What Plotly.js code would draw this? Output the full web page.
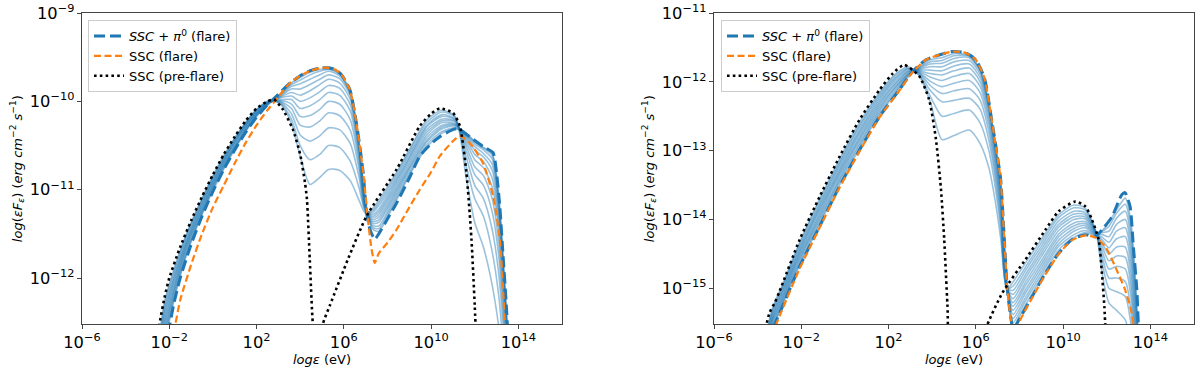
<!DOCTYPE html>
<html><head><meta charset="utf-8">
<script src="https://cdn.plot.ly/plotly-3.0.1.min.js"></script>
<style>html,body{margin:0;padding:0;background:#fff;} #chart{width:1200px;height:370px;}</style>
</head><body><div id="chart"></div>
<script>
// ---------- LEFT PANEL (log10 values) ----------
const preL_x = [-2.7,-2.45,-2.2,-2.0,-1.5,-1.0,-0.5,0,0.5,1.0,1.5,2.0,2.5,2.8,3.2,3.67,4.0,4.22,4.31,4.44,4.58,4.8,5.04,5.36,6.2,7.04,8.42,9.48,10.0,10.4,11.0,11.32,11.62,11.85,12.0,12.1];
const preL_y = [-13.0,-12.52,-12.2,-12.0,-11.65,-11.35,-11.08,-10.83,-10.6,-10.4,-10.22,-10.08,-10.0,-9.98,-10.09,-10.32,-10.6,-10.92,-11.11,-11.79,-12.52,-13.0,-12.52,-12.31,-11.78,-11.30,-10.77,-10.28,-10.14,-10.08,-10.13,-10.28,-10.81,-11.56,-12.31,-12.9];

const totL_x = [-2.2,-1.97,-1.8,-1.5,-1.0,-0.5,0,0.5,1.0,1.5,2.0,2.5,3.0,3.5,4.0,4.5,5.0,5.3,5.6,5.9,6.28,6.58,6.89,7.04,7.2,7.42,7.6,8.0,8.42,9.0,9.48,10.0,10.4,11.0,11.25,11.77,12.38,12.84,13.0,13.15,13.3,13.45,13.55];
const totL_y = [-12.8,-12.52,-12.3,-12.0,-11.62,-11.3,-11.02,-10.77,-10.55,-10.35,-10.18,-10.04,-9.92,-9.8,-9.71,-9.65,-9.62,-9.62,-9.64,-9.7,-9.87,-10.25,-10.81,-11.26,-11.45,-11.56,-11.5,-11.33,-11.15,-10.87,-10.62,-10.48,-10.40,-10.32,-10.31,-10.40,-10.51,-10.58,-10.81,-11.19,-11.75,-12.31,-12.8];

const sscL_x = [-2.0,-1.72,-1.5,-1.0,-0.5,0,0.5,1.0,1.5,2.0,2.5,3.0,3.5,4.0,4.5,5.0,5.3,5.6,5.9,6.28,6.58,6.89,7.12,7.27,7.42,7.6,8.0,8.42,9.0,9.48,10.0,10.4,11.0,11.32,11.77,12.38,12.84,13.15,13.3,13.38,13.45];
const sscL_y = [-12.85,-12.52,-12.25,-11.85,-11.5,-11.2,-10.95,-10.7,-10.47,-10.27,-10.1,-9.95,-9.8,-9.71,-9.65,-9.62,-9.62,-9.64,-9.7,-9.87,-10.25,-10.81,-11.37,-11.67,-11.83,-11.72,-11.6,-11.45,-11.2,-11.0,-10.8,-10.62,-10.45,-10.39,-10.47,-10.70,-11.07,-11.56,-12.13,-12.52,-12.9];

// intermediate time steps: one row per energy, 12 steps from pre-flare to flare
const stepL_x = [-2.6,-2.2,-1.8,-1.2,-0.5,0.3,1.2,2.0,2.6,3.1,3.6,4.0,4.45,4.9,5.3,5.8,6.3,6.7,7.0,7.3,7.6,8.2,9.0,9.8,10.5,11.1,11.6,12.0,12.4,12.8,13.1,13.35,13.55];
const stepL_rows = [
[-12.91,-12.97,-13.02,-13.08,-13.14,-13.2,-13.25,-13.31,-13.37,-13.43,-13.48,-13.54],
[-12.25,-12.29,-12.34,-12.38,-12.43,-12.48,-12.52,-12.57,-12.62,-12.66,-12.71,-12.75],
[-11.91,-11.94,-11.98,-12.01,-12.04,-12.07,-12.11,-12.14,-12.17,-12.2,-12.24,-12.27],
[-11.49,-11.51,-11.53,-11.56,-11.58,-11.6,-11.62,-11.64,-11.66,-11.69,-11.71,-11.73],
[-11.1,-11.11,-11.13,-11.15,-11.16,-11.18,-11.2,-11.22,-11.23,-11.25,-11.27,-11.28],
[-10.7,-10.72,-10.73,-10.75,-10.76,-10.77,-10.79,-10.8,-10.81,-10.83,-10.84,-10.86],
[-10.34,-10.35,-10.36,-10.37,-10.38,-10.39,-10.4,-10.42,-10.43,-10.44,-10.45,-10.46],
[-10.09,-10.1,-10.1,-10.11,-10.12,-10.13,-10.13,-10.14,-10.15,-10.16,-10.16,-10.17],
[-9.99,-9.99,-10.0,-10.0,-10.0,-10.0,-10.01,-10.01,-10.01,-10.01,-10.02,-10.02],
[-10.03,-10.02,-10.01,-10.0,-9.99,-9.98,-9.96,-9.95,-9.94,-9.93,-9.92,-9.91],
[-10.25,-10.2,-10.14,-10.08,-10.03,-9.98,-9.94,-9.9,-9.86,-9.83,-9.81,-9.79],
[-10.62,-10.5,-10.38,-10.27,-10.17,-10.08,-10.0,-9.93,-9.86,-9.8,-9.76,-9.73],
[-10.94,-10.66,-10.45,-10.29,-10.16,-10.05,-9.96,-9.88,-9.81,-9.75,-9.7,-9.67],
[-10.86,-10.6,-10.39,-10.22,-10.09,-9.98,-9.89,-9.81,-9.75,-9.7,-9.66,-9.64],
[-10.77,-10.5,-10.3,-10.13,-10.0,-9.9,-9.82,-9.75,-9.7,-9.66,-9.64,-9.63],
[-10.78,-10.52,-10.32,-10.16,-10.03,-9.93,-9.85,-9.79,-9.74,-9.71,-9.69,-9.68],
[-10.9,-10.68,-10.48,-10.33,-10.21,-10.11,-10.04,-9.98,-9.94,-9.91,-9.9,-9.89],
[-11.12,-10.98,-10.86,-10.77,-10.7,-10.64,-10.59,-10.55,-10.52,-10.5,-10.48,-10.47],
[-11.27,-11.25,-11.24,-11.23,-11.22,-11.21,-11.2,-11.19,-11.18,-11.17,-11.16,-11.15],
[-11.22,-11.24,-11.26,-11.28,-11.3,-11.32,-11.34,-11.36,-11.38,-11.4,-11.42,-11.44],
[-11.12,-11.15,-11.18,-11.22,-11.25,-11.28,-11.31,-11.34,-11.37,-11.41,-11.44,-11.47],
[-10.89,-10.92,-10.95,-10.98,-11.01,-11.04,-11.07,-11.1,-11.13,-11.16,-11.19,-11.22],
[-10.55,-10.57,-10.6,-10.63,-10.65,-10.68,-10.71,-10.74,-10.76,-10.79,-10.82,-10.84],
[-10.21,-10.24,-10.27,-10.29,-10.32,-10.35,-10.38,-10.41,-10.44,-10.46,-10.49,-10.52],
[-10.1,-10.12,-10.15,-10.17,-10.2,-10.22,-10.24,-10.27,-10.29,-10.31,-10.34,-10.36],
[-10.17,-10.18,-10.2,-10.21,-10.22,-10.23,-10.25,-10.26,-10.27,-10.28,-10.3,-10.31],
[-10.85,-10.72,-10.62,-10.55,-10.5,-10.46,-10.43,-10.41,-10.39,-10.38,-10.37,-10.36],
[-11.37,-11.1,-10.95,-10.83,-10.74,-10.66,-10.6,-10.55,-10.51,-10.48,-10.46,-10.45],
[-11.65,-11.3,-11.1,-10.95,-10.84,-10.75,-10.68,-10.63,-10.59,-10.55,-10.53,-10.52],
[-12.08,-11.7,-11.45,-11.25,-11.1,-10.97,-10.87,-10.78,-10.71,-10.65,-10.61,-10.59],
[-12.55,-12.2,-11.95,-11.75,-11.6,-11.45,-11.35,-11.27,-11.2,-11.14,-11.1,-11.07],
[-13.1,-12.9,-12.7,-12.55,-12.4,-12.3,-12.2,-12.12,-12.06,-12.02,-12.0,-11.98],
[-13.6,-13.5,-13.4,-13.3,-13.2,-13.1,-13.0,-12.95,-12.9,-12.85,-12.8,-12.75]
];

// ---------- RIGHT PANEL ----------
const preR_x = [-3.8,-3.59,-3.45,-3.2,-2.99,-2.07,-1.16,-0.25,0.67,1.58,2.19,2.72,3.41,3.86,4.17,4.40,4.55,4.70,4.85,5.8,6.53,7.21,8.28,9.19,9.8,10.56,11.02,11.32,11.63,11.78,11.89,11.98];
const preR_y = [-16.0,-15.52,-15.35,-15.2,-15.04,-14.29,-13.67,-13.09,-12.55,-12.12,-11.88,-11.755,-11.92,-12.26,-12.83,-13.55,-14.28,-15.24,-16.0,-16.3,-15.53,-15.07,-14.58,-14.15,-13.88,-13.74,-13.81,-14.0,-14.29,-14.78,-15.26,-15.9];

const totR_x = [-3.4,-3.21,-2.99,-2.07,-1.16,-0.25,0.67,1.58,2.49,3.1,3.71,4.32,4.93,5.54,6.0,6.4,6.7,6.95,7.14,7.29,7.44,7.59,7.72,7.97,8.58,9.19,9.8,10.41,11.02,11.47,11.78,12.24,12.69,12.84,13.07,13.22,13.38,13.45,13.55];
const totR_y = [-15.8,-15.52,-15.36,-14.68,-14.1,-13.52,-12.99,-12.51,-12.12,-11.85,-11.68,-11.61,-11.56,-11.58,-11.68,-11.95,-12.5,-13.0,-13.42,-14.2,-15.0,-15.4,-15.6,-15.46,-15.12,-14.78,-14.49,-14.29,-14.22,-14.25,-14.15,-13.96,-13.64,-13.61,-13.81,-14.39,-15.02,-15.52,-16.0];

const sscR_x = [-3.35,-3.14,-2.99,-2.07,-1.16,-0.25,0.67,1.58,2.49,3.1,3.71,4.32,4.93,5.54,6.0,6.4,6.7,6.95,7.14,7.29,7.44,7.59,7.8,7.95,8.58,9.19,9.8,10.41,11.02,11.47,11.93,12.38,12.84,13.15,13.22,13.3];
const sscR_y = [-15.85,-15.52,-15.4,-14.71,-14.12,-13.54,-13.01,-12.52,-12.13,-11.86,-11.68,-11.61,-11.56,-11.58,-11.68,-11.95,-12.5,-13.0,-13.42,-14.2,-15.0,-15.42,-15.72,-15.52,-15.14,-14.8,-14.5,-14.3,-14.23,-14.26,-14.39,-14.68,-15.02,-15.36,-15.52,-15.8];

const stepR_x = [-3.7,-3.3,-2.9,-2.3,-1.5,-0.5,0.5,1.5,2.3,2.9,3.4,3.9,4.45,5.0,5.7,6.2,6.6,6.9,7.15,7.42,7.7,8.3,9.0,9.8,10.5,11.0,11.5,11.8,12.1,12.45,12.85,13.1,13.3,13.5];
const stepR_rows = [
[-15.78,-15.8,-15.83,-15.86,-15.88,-15.91,-15.94,-15.97,-15.99,-16.02,-16.05,-16.07],
[-15.27,-15.3,-15.33,-15.36,-15.39,-15.42,-15.44,-15.47,-15.5,-15.53,-15.56,-15.59],
[-14.98,-15.0,-15.03,-15.06,-15.08,-15.11,-15.14,-15.17,-15.19,-15.22,-15.25,-15.27],
[-14.5,-14.53,-14.56,-14.59,-14.62,-14.65,-14.67,-14.7,-14.73,-14.76,-14.79,-14.82],
[-13.93,-13.96,-14.0,-14.03,-14.06,-14.09,-14.13,-14.16,-14.19,-14.22,-14.26,-14.29],
[-13.28,-13.32,-13.35,-13.38,-13.42,-13.45,-13.48,-13.51,-13.55,-13.58,-13.61,-13.65],
[-12.68,-12.72,-12.75,-12.79,-12.82,-12.85,-12.89,-12.92,-12.95,-12.99,-13.02,-13.06],
[-12.19,-12.22,-12.25,-12.28,-12.31,-12.34,-12.37,-12.4,-12.43,-12.46,-12.49,-12.52],
[-11.89,-11.91,-11.94,-11.96,-11.99,-12.02,-12.04,-12.07,-12.09,-12.12,-12.15,-12.17],
[-11.78,-11.8,-11.81,-11.82,-11.84,-11.85,-11.86,-11.88,-11.89,-11.9,-11.91,-11.93],
[-11.91,-11.9,-11.88,-11.87,-11.86,-11.85,-11.84,-11.83,-11.82,-11.81,-11.8,-11.79],
[-12.28,-12.2,-12.12,-12.05,-11.99,-11.93,-11.88,-11.83,-11.78,-11.74,-11.71,-11.68],
[-12.84,-12.5,-12.29,-12.17,-12.07,-11.98,-11.9,-11.84,-11.78,-11.73,-11.69,-11.65],
[-12.78,-12.46,-12.27,-12.13,-12.02,-11.92,-11.84,-11.77,-11.71,-11.66,-11.62,-11.59],
[-12.7,-12.41,-12.24,-12.1,-11.98,-11.88,-11.8,-11.74,-11.69,-11.65,-11.63,-11.62],
[-12.9,-12.6,-12.4,-12.27,-12.16,-12.07,-12.0,-11.94,-11.89,-11.85,-11.83,-11.82],
[-13.25,-13.0,-12.85,-12.73,-12.63,-12.55,-12.48,-12.42,-12.38,-12.35,-12.33,-12.32],
[-13.75,-13.55,-13.42,-13.32,-13.23,-13.15,-13.08,-13.02,-12.98,-12.95,-12.93,-12.92],
[-14.3,-14.15,-14.05,-13.95,-13.87,-13.8,-13.73,-13.67,-13.6,-13.55,-13.51,-13.48],
[-15.02,-15.01,-15.0,-14.99,-14.98,-14.97,-14.96,-14.95,-14.94,-14.93,-14.92,-14.91],
[-14.91,-14.97,-15.03,-15.09,-15.15,-15.21,-15.26,-15.32,-15.38,-15.44,-15.5,-15.55],
[-14.62,-14.68,-14.73,-14.79,-14.84,-14.9,-14.95,-15.01,-15.06,-15.12,-15.17,-15.23],
[-14.29,-14.34,-14.39,-14.44,-14.49,-14.54,-14.6,-14.65,-14.7,-14.75,-14.8,-14.85],
[-13.93,-13.97,-14.02,-14.07,-14.11,-14.16,-14.21,-14.25,-14.3,-14.35,-14.39,-14.44],
[-13.79,-13.83,-13.88,-13.92,-13.96,-14.0,-14.05,-14.09,-14.13,-14.17,-14.22,-14.26],
[-13.83,-13.86,-13.9,-13.93,-13.96,-13.99,-14.03,-14.06,-14.09,-14.12,-14.16,-14.19],
[-14.17,-14.18,-14.18,-14.19,-14.19,-14.2,-14.2,-14.21,-14.21,-14.22,-14.22,-14.23],
[-14.8,-14.65,-14.55,-14.47,-14.4,-14.35,-14.3,-14.26,-14.22,-14.19,-14.17,-14.16],
[-15.21,-15.0,-14.85,-14.72,-14.6,-14.5,-14.41,-14.33,-14.25,-14.17,-14.1,-14.04],
[-15.32,-15.05,-14.85,-14.68,-14.53,-14.4,-14.28,-14.17,-14.07,-13.98,-13.91,-13.86],
[-15.46,-15.12,-14.9,-14.72,-14.55,-14.4,-14.25,-14.12,-14.0,-13.88,-13.78,-13.69],
[-15.8,-15.5,-15.3,-15.1,-14.95,-14.8,-14.65,-14.5,-14.38,-14.25,-14.13,-14.02],
[-16.3,-16.1,-15.95,-15.8,-15.65,-15.5,-15.38,-15.25,-15.13,-15.0,-14.9,-14.8],
[-16.6,-16.55,-16.5,-16.45,-16.4,-16.35,-16.3,-16.25,-16.2,-16.15,-16.1,-16.05]
];

const seriesNames = ['<i>SSC</i> + <i>π</i><sup>0</sup> (flare)', 'SSC (flare)', 'SSC (pre-flare)'];
const xTitle = '<i>logε</i> (eV)';
const yTitle = '<i>log</i>(<i>εF</i><sub><i>ε</i></sub>) (<i>erg cm</i><sup>−2</sup><i> s</i><sup>−1</sup>)';

// ---------- build ----------
const pw = a => a.map(v => Math.pow(10, v));
const columns = rows => rows[0].map((_, k) => rows.map(r => r[k]));
const FONT = 'DejaVu Sans, Liberation Sans, sans-serif';

function panel(xa, ya, leg, stepX, stepRows, totX, totY, sscX, sscY, preX, preY) {
  const tr = [];
  columns(stepRows).forEach(col => tr.push({
    x: pw(stepX), y: pw(col), xaxis: xa, yaxis: ya, mode: 'lines', showlegend: false, hoverinfo: 'skip',
    line: {color: 'rgba(31,119,180,0.45)', width: 1.6, shape: 'spline', smoothing: 0.7}
  }));
  tr.push({x: pw(totX), y: pw(totY), xaxis: xa, yaxis: ya, mode: 'lines', name: seriesNames[0], legend: leg,
    line: {color: '#1f77b4', width: 3, dash: '11px,5px', shape: 'spline', smoothing: 0.6}});
  tr.push({x: pw(sscX), y: pw(sscY), xaxis: xa, yaxis: ya, mode: 'lines', name: seriesNames[1], legend: leg,
    line: {color: '#ff7f0e', width: 2.2, dash: '7px,3.5px', shape: 'spline', smoothing: 0.6}});
  tr.push({x: pw(preX), y: pw(preY), xaxis: xa, yaxis: ya, mode: 'lines', name: seriesNames[2], legend: leg,
    line: {color: '#000000', width: 2.6, dash: '2.6px,3.2px', shape: 'spline', smoothing: 0.6}});
  return tr;
}

const data = [].concat(
  panel('x', 'y', 'legend', stepL_x, stepL_rows, totL_x, totL_y, sscL_x, sscL_y, preL_x, preL_y),
  panel('x2', 'y2', 'legend2', stepR_x, stepR_rows, totR_x, totR_y, sscR_x, sscR_y, preR_x, preR_y)
);

function xaxis(domain, anchor) {
  return {type: 'log', domain: domain, anchor: anchor, range: [-6, 16], tickmode: 'linear', tick0: -6, dtick: 4,
    exponentformat: 'power', showline: true, mirror: true, linecolor: '#444', linewidth: 1,
    ticks: 'outside', ticklen: 4, tickwidth: 1, tickcolor: '#444', showgrid: false, zeroline: false,
    tickfont: {family: FONT, size: 13, color: '#000'},
    title: {text: xTitle, font: {family: FONT, size: 13, color: '#000'}, standoff: 2}};
}
function yaxis(domain, anchor, lo, hi) {
  return {type: 'log', domain: domain, anchor: anchor, range: [lo, hi], tickmode: 'linear', tick0: 0, dtick: 1,
    exponentformat: 'power', showline: true, mirror: true, linecolor: '#444', linewidth: 1,
    ticks: 'outside', ticklen: 4, tickwidth: 1, tickcolor: '#444', showgrid: false, zeroline: false,
    tickfont: {family: FONT, size: 13, color: '#000'},
    title: {text: yTitle, font: {family: FONT, size: 13, color: '#000'}, standoff: 4}};
}
function legend(x) {
  return {x: x, y: 1 - 20/370, xanchor: 'left', yanchor: 'top', bgcolor: 'rgba(255,255,255,0.85)',
    bordercolor: '#cccccc', borderwidth: 1, font: {family: FONT, size: 13, color: '#000'},
    tracegroupgap: 0, itemwidth: 30, traceorder: 'normal'};
}
const ydom = [1 - 324.3/370, 1 - 13/370];
const layout = {
  width: 1200, height: 370, margin: {l: 0, r: 0, t: 0, b: 0}, paper_bgcolor: '#fff', plot_bgcolor: '#fff',
  font: {family: FONT, color: '#000'}, showlegend: true, hovermode: false,
  xaxis: xaxis([82/1200, 562/1200], 'y'),
  yaxis: yaxis(ydom, 'x', Math.log10(3e-13), -9),
  xaxis2: xaxis([714/1200, 1194/1200], 'y2'),
  yaxis2: yaxis(ydom, 'x2', Math.log10(3e-16), -11),
  legend: legend(88/1200),
  legend2: legend(721/1200)
};
Plotly.newPlot('chart', data, layout, {staticPlot: true, displayModeBar: false});
</script>
</body></html>
